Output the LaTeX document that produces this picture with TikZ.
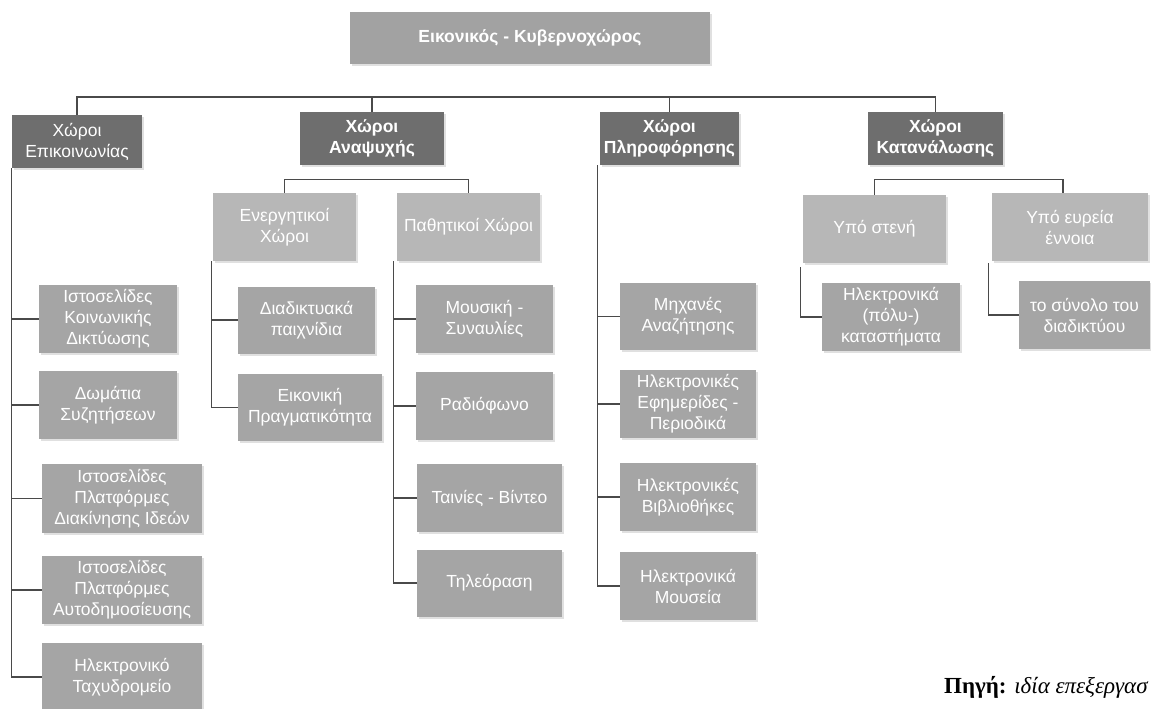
\documentclass[tikz,border=0pt]{standalone}
\usepackage{fontspec}
\setmainfont{Liberation Sans}
\newfontfamily\capfont{Liberation Serif}
\usetikzlibrary{shadows}
\definecolor{rootcol}{HTML}{A2A2A2}
\definecolor{topcol}{HTML}{6E6E6E}
\definecolor{subcol}{HTML}{B7B7B7}
\definecolor{leafcol}{HTML}{A5A5A5}
\definecolor{linecol}{HTML}{4A4A4A}
\tikzset{
  box/.style={rectangle, inner sep=0pt, align=center, text=white,
    font=\fontsize{17.5}{21}\selectfont,
    drop shadow={shadow xshift=1.5pt, shadow yshift=-2pt, fill=black!12, opacity=1}},
  rootbox/.style={box, fill=rootcol, font=\fontsize{17.5}{21}\selectfont\bfseries},
  topbox/.style={box, fill=topcol},
  topboxb/.style={topbox, font=\fontsize{17.5}{21}\selectfont\bfseries},
  subbox/.style={box, fill=subcol},
  leafbox/.style={box, fill=leafcol},
  conn/.style={draw=linecol, line width=1.1pt}
}
\begin{document}
\begin{tikzpicture}[x=1pt,y=-1pt]
\useasboundingbox (0,0) rectangle (1151,709);

% root
\node[rootbox, minimum width=360pt, minimum height=52pt] (root) at (530,38) {Εικονικός - Κυβερνοχώρος};

% level 1
\node[topbox, minimum width=130pt, minimum height=53pt] (t1) at (77,141.5) {Χώροι\\Επικοινωνίας};
\node[topboxb, minimum width=144pt, minimum height=53pt] (t2) at (372,138.5) {Χώροι\\Αναψυχής};
\node[topboxb, minimum width=139pt, minimum height=53pt] (t3) at (669.5,138.5) {Χώροι\\Πληροφόρησης};
\node[topboxb, minimum width=135pt, minimum height=53pt] (t4) at (935.5,138.5) {Χώροι\\Κατανάλωσης};

\coordinate (barA) at (0,97);
\draw[conn] (t1.north) -- (t1.north |- barA) -- (t4.north |- barA) -- (t4.north);
\draw[conn] (t2.north) -- (t2.north |- barA);
\draw[conn] (t3.north) -- (t3.north |- barA);

% Επικοινωνίας children
\node[leafbox, minimum width=138pt, minimum height=68pt] (c1) at (108,319) {Ιστοσελίδες\\Κοινωνικής\\Δικτύωσης};
\node[leafbox, minimum width=138pt, minimum height=68pt] (c2) at (108,405) {Δωμάτια\\Συζητήσεων};
\node[leafbox, minimum width=160pt, minimum height=69pt] (c3) at (122,498.5) {Ιστοσελίδες\\Πλατφόρμες\\Διακίνησης Ιδεών};
\node[leafbox, minimum width=160pt, minimum height=68pt] (c4) at (122,590) {Ιστοσελίδες\\Πλατφόρμες\\Αυτοδημοσίευσης};
\node[leafbox, minimum width=160pt, minimum height=68pt] (c5) at (122,677) {Ηλεκτρονικό\\Ταχυδρομείο};
\foreach \c in {c1,c2,c3,c4,c5}{
  \draw[conn] (t1.south west) |- (\c.west);
}

% Αναψυχής children
\node[subbox, minimum width=143pt, minimum height=68pt] (s1) at (284.5,227) {Ενεργητικοί\\Χώροι};
\node[subbox, minimum width=143pt, minimum height=68pt] (s2) at (468.5,227) {Παθητικοί Χώροι};
\draw[conn] (s1.north) -- ++(0,-13) -| (s2.north);

\node[leafbox, minimum width=137pt, minimum height=67pt] (e1) at (306.5,320) {Διαδικτυακά\\παιχνίδια};
\node[leafbox, minimum width=144pt, minimum height=67pt] (e2) at (310,407.5) {Εικονική\\Πραγματικότητα};
\foreach \c in {e1,e2}{
  \draw[conn] ([xshift=-1pt]s1.south west) |- (\c.west);
}

\node[leafbox, minimum width=137pt, minimum height=68pt] (p1) at (484.5,319) {Μουσική -\\Συναυλίες};
\node[leafbox, minimum width=137pt, minimum height=68pt] (p2) at (484.5,406) {Ραδιόφωνο};
\node[leafbox, minimum width=145pt, minimum height=68pt] (p3) at (489.5,498) {Ταινίες - Βίντεο};
\node[leafbox, minimum width=145pt, minimum height=67pt] (p4) at (489.5,583) {Τηλεόραση};
\foreach \c in {p1,p2,p3,p4}{
  \draw[conn] ([xshift=-3pt]s2.south west) |- (\c.west);
}

% Πληροφόρησης children
\node[leafbox, minimum width=136pt, minimum height=67pt] (i1) at (688,316.5) {Μηχανές\\Αναζήτησης};
\node[leafbox, minimum width=136pt, minimum height=68pt] (i2) at (688,404) {Ηλεκτρονικές\\Εφημερίδες -\\Περιοδικά};
\node[leafbox, minimum width=136pt, minimum height=68pt] (i3) at (688,497) {Ηλεκτρονικές\\Βιβλιοθήκες};
\node[leafbox, minimum width=136pt, minimum height=68pt] (i4) at (688,586) {Ηλεκτρονικά\\Μουσεία};
\foreach \c in {i1,i2,i3,i4}{
  \draw[conn] ([xshift=-2pt]t3.south west) |- (\c.west);
}

% Κατανάλωσης children
\node[subbox, minimum width=143pt, minimum height=68pt] (k1) at (874.5,229) {Υπό στενή};
\node[subbox, minimum width=156pt, minimum height=68pt] (k2) at (1070,227) {Υπό ευρεία\\έννοια};
\draw[conn] (k1.north) -- ++(0,-15) -| ([xshift=-7pt]k2.north);

\node[leafbox, minimum width=138pt, minimum height=68pt] (k3) at (891,317) {Ηλεκτρονικά\\(πόλυ-)\\καταστήματα};
\node[leafbox, minimum width=131pt, minimum height=68pt] (k4) at (1084.5,315) {το σύνολο του\\διαδικτύου};
\draw[conn] ([xshift=-2pt,yshift=-4pt]k1.south west) |- (k3.west);
\draw[conn] ([xshift=-3pt,yshift=-2pt]k2.south west) |- (k4.west);

% caption
\node[anchor=base west, inner sep=0pt, font=\capfont\fontsize{23}{27}\selectfont] (cap) at (944,693) {\textbf{Πηγή:} \textit{ιδία επεξεργασ}};
\end{tikzpicture}
\end{document}
